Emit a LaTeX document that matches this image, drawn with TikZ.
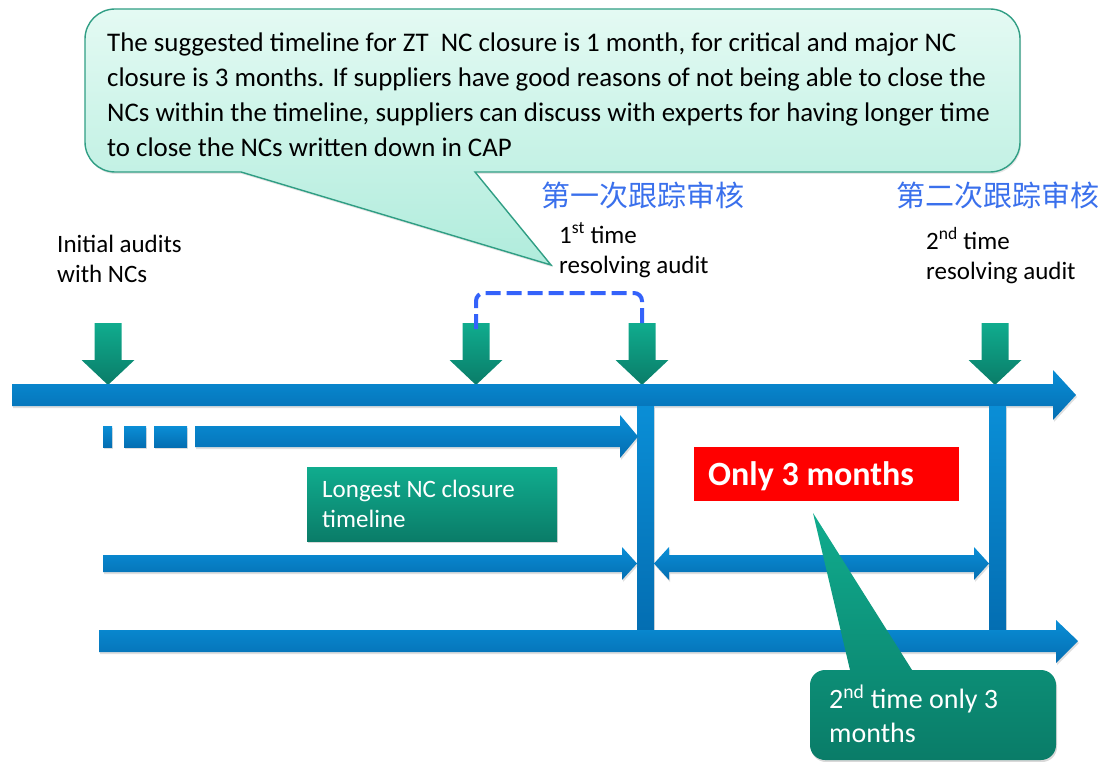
\documentclass[tikz,border=0pt]{standalone}
\usepackage{fontspec}
\setmainfont{Carlito}
\newfontfamily\cjk{Noto Sans CJK SC}
\usetikzlibrary{positioning,arrows.meta,shadows}
\definecolor{barblue}{RGB}{10,142,214}
\definecolor{barblued}{RGB}{4,110,178}
\definecolor{auditgreen}{RGB}{16,172,142}
\definecolor{auditgreend}{RGB}{10,124,104}
\definecolor{mintlight}{RGB}{228,250,243}
\definecolor{mint}{RGB}{176,236,220}
\definecolor{mintline}{RGB}{48,158,132}
\definecolor{cjkblue}{RGB}{58,112,236}
\definecolor{dashblue}{RGB}{52,98,250}
\tikzset{
  bar/.style={top color=barblue, bottom color=barblued, draw=none,
    drop shadow={opacity=0.25, shadow xshift=1pt, shadow yshift=-2pt}},
  auditarrow/.style={top color=auditgreen, bottom color=auditgreend, draw=none},
  label/.style={anchor=base west, inner sep=0pt, align=left,
    font=\fontsize{25}{30}\selectfont},
  cjklabel/.style={anchor=base west, inner sep=0pt, text=cjkblue,
    font=\cjk\fontsize{29}{30}\selectfont},
}

\begin{document}
\begin{tikzpicture}[x=1pt, y=-1pt, >=Stealth]
\useasboundingbox (0,0) rectangle (1102,762);
% Callout
\path[top color=mintlight, bottom color=mint, draw=mintline, line width=1.4pt,
  drop shadow={opacity=0.2, shadow xshift=1pt, shadow yshift=-2pt}]
  (241,172) [rounded corners=30] -- (85,172) -- (85,9) -- (1020,9) -- (1020,172)
  [sharp corners] -- (475,172) -- (551,265) -- cycle;
\node[label, font=\fontsize{26.9}{35}\selectfont] (note) at (107,157)
  {The suggested timeline for ZT \ NC closure is 1 month, for critical and major NC\\
   closure is 3 months. If suppliers have good reasons of not being able to close the\\
   NCs within the timeline, suppliers can discuss with experts for having longer time\\
   to close the NCs written down in CAP};
% Labels above the timeline
\node[cjklabel] (first) at (541,207) {第一次跟踪审核};
\node[cjklabel] (second) at (896,207) {第二次跟踪审核};
\node[label] (initial) at (57,282) {Initial audits\\with NCs};
\node[label] (res1) at (559,273) {1\textsuperscript{st} time\\resolving audit};
\node[label] (res2) at (926,279) {2\textsuperscript{nd} time\\resolving audit};
% Audit arrows
\foreach \x [count=\i] in {108,476,642,995} {
  \path[auditarrow] (\x-13.5,323) -- (\x+13.5,323) -- (\x+13.5,360) -- (\x+26.5,360)
    -- (\x,385) -- (\x-26.5,360) -- (\x-13.5,360) -- cycle;
  \coordinate (audit\i) at (\x,323);
}
\draw[dashblue, line width=4pt, dash pattern=on 15pt off 6pt, rounded corners=8]
  ([yshift=-6]audit2) -- ++(0,-36) -| ([yshift=-6]audit3);
% Timelines
\path[bar] (12,384) -- (1053,384) -- (1053,370) -- (1076,395) -- (1053,420) -- (1053,406) -- (12,406) -- cycle;
\path[bar] (637,406) rectangle (654,630);
\path[bar] (989,406) rectangle (1006,630);
\path[bar] (103,426) rectangle (112,447);
\path[bar] (124,426) rectangle (146,447);
\path[bar] (154,426) rectangle (187,447);
\path[bar] (195,426) -- (620,426) -- (620,415) -- (638,436.5) -- (620,458) -- (620,447) -- (195,447) -- cycle;
\path[bar] (103,555) -- (622,555) -- (622,547) -- (637,563.5) -- (622,580) -- (622,572) -- (103,572) -- cycle;
\path[bar] (654,563.5) -- (669,547) -- (669,555) -- (974,555) -- (974,547) -- (989,563.5)
  -- (974,580) -- (974,572) -- (669,572) -- (669,580) -- cycle;
\path[bar] (99,630) -- (1056,630) -- (1056,620) -- (1078,641) -- (1056,663) -- (1056,652) -- (99,652) -- cycle;
% Boxes
\path[top color=auditgreen, bottom color=auditgreend,
  drop shadow={opacity=0.3, shadow xshift=1pt, shadow yshift=-2pt}] (307,467) rectangle (557,541);
\node[label, text=white] (longest) at (322,527) {Longest NC closure\\timeline};
\path[fill=red] (694,447) rectangle (959,501);
\node[anchor=base west, inner sep=0pt, text=white, font=\bfseries\fontsize{34}{36}\selectfont] (only) at (708,485) {Only 3 months};
\path[top color=auditgreen, bottom color=auditgreend,
  drop shadow={opacity=0.3, shadow xshift=1pt, shadow yshift=-2pt}]
  (850,670) [rounded corners=15] -- (810,670) -- (810,760) -- (1056,760) -- (1056,670)
  [sharp corners] -- (912,670) -- (813,513) -- cycle;
\node[label, text=white, font=\fontsize{28}{34}\selectfont] (twice) at (829,742) {2\textsuperscript{nd} time only 3\\months};
\end{tikzpicture}
\end{document}
